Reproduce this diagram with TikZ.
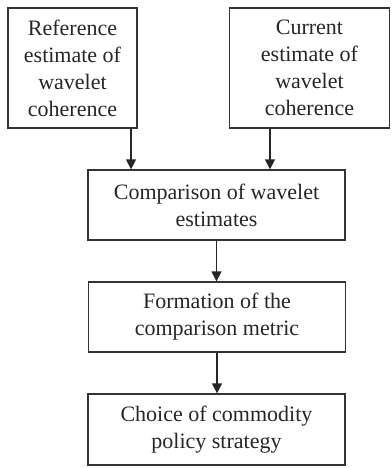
\documentclass[tikz,border=0pt]{standalone}
\usepackage{fontspec}
\setmainfont{Liberation Serif}
\usetikzlibrary{arrows.meta}
\begin{document}
\begin{tikzpicture}[x=1pt,y=-1pt,
  box/.style={draw=black!80, line width=1.3pt, align=center,
    font=\fontsize{22}{27}\selectfont, inner sep=0pt, text=black!85},
  arr/.style={draw=black!85, line width=1.3pt, -{Triangle[width=10pt,length=10pt]}}]
\useasboundingbox (0,0) rectangle (391,468);
\node[box, minimum width=129, minimum height=120] (ref) at (72.5,68)
  {Reference\\estimate of\\wavelet\\coherence};
\node[box, minimum width=160, minimum height=120] (cur) at (309.5,68)
  {Current\\estimate of\\wavelet\\coherence};
\node[box, minimum width=257, minimum height=70] (cmp) at (216.5,205)
  {Comparison of wavelet\\estimates};
\node[box, minimum width=257, minimum height=70] (frm) at (217,317)
  {Formation of the\\comparison metric};
\node[box, minimum width=257, minimum height=71] (cho) at (216.5,429.5)
  {Choice of commodity\\policy strategy};
\coordinate (c1) at (131,0);
\coordinate (c2) at (270,0);
\draw[arr] (ref.south -| c1) -- (cmp.north -| c1);
\draw[arr] (cur.south -| c2) -- (cmp.north -| c2);
\draw[arr] (cmp.south) -- (cmp.south |- frm.north);
\draw[arr] (frm.south) -- (frm.south |- cho.north);
\end{tikzpicture}
\end{document}
